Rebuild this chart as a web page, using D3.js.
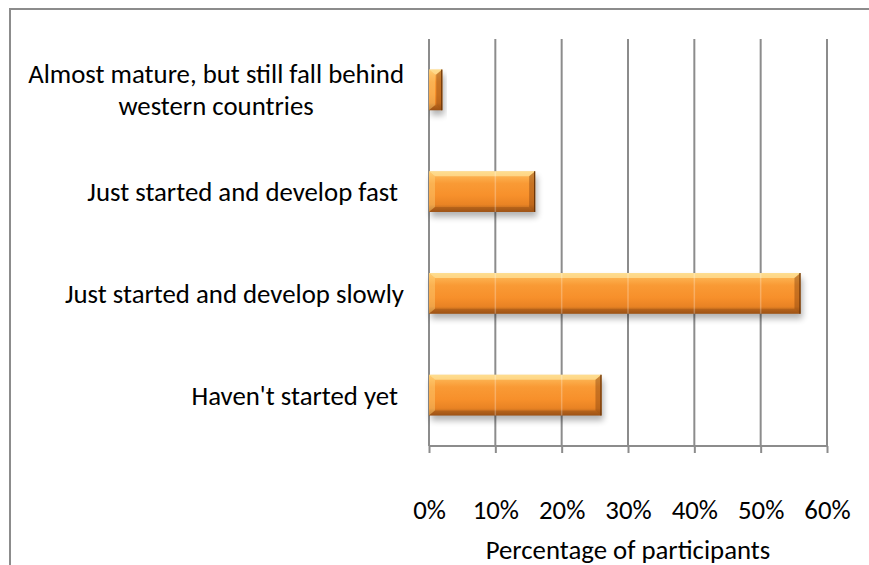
<!DOCTYPE html>
<html>
<head>
<meta charset="utf-8">
<script src="https://cdn.jsdelivr.net/npm/d3@7/dist/d3.min.js"></script>
<style>
  html, body { margin: 0; padding: 0; background: #fff; }
  svg { display: block; }
  text { font-family: Carlito, Calibri, Lato, sans-serif; fill: #000; }
</style>
</head>
<body>
<svg id="chart" width="869" height="565"></svg>
<script>
// Survey answers, top to bottom as shown
const categories = [
  "Almost mature, but still fall behind\nwestern countries",
  "Just started and develop fast ",
  "Just started and develop slowly",
  "Haven't started yet "
];
// Share of participants (%)
const values = [2, 16, 56, 26];
const tickValues = [0, 10, 20, 30, 40, 50, 60];
const xTitle = "Percentage of participants";

const svg = d3.select("#chart");
const W = 869, H = 565;
const plot = { left: 429, right: 827, top: 39, bottom: 446 };
const fontSize = 26.8;
const fontStack = "Carlito, Calibri, Lato, sans-serif";

// chart frame
svg.append("rect")
  .attr("x", 10).attr("y", 9)
  .attr("width", W + 20).attr("height", H + 20)
  .attr("fill", "#fff").attr("stroke", "#8c8c8c").attr("stroke-width", 2);

const x = d3.scaleLinear().domain([0, 60]).range([plot.left, plot.right]);
const y = d3.scaleBand().domain(categories).range([plot.top, plot.bottom])
  .paddingInner(0.6).paddingOuter(0.3);

// defs: gradient + shadow
const defs = svg.append("defs");
const grad = defs.append("linearGradient").attr("id", "barGrad")
  .attr("x1", 0).attr("y1", 0).attr("x2", 0).attr("y2", 1);
[[0, "#fdc468"], [0.14, "#fcae4c"], [0.3, "#f99a35"], [0.6, "#f7902b"], [0.82, "#e98324"], [0.9, "#c8701f"], [1, "#a85a18"]]
  .forEach(([o, c]) => grad.append("stop").attr("offset", o).attr("stop-color", c));
const blur = defs.append("filter").attr("id", "shadow")
  .attr("x", "-10%").attr("y", "-30%").attr("width", "130%").attr("height", "180%");
blur.append("feGaussianBlur").attr("stdDeviation", 3);

// vertical gridlines
const grid = svg.append("g").attr("class", "grid");
grid.selectAll("line").data(tickValues).join("line")
  .attr("x1", d => x(d)).attr("x2", d => x(d))
  .attr("y1", plot.top).attr("y2", plot.bottom)
  .attr("stroke", "#8c8c8c").attr("stroke-width", 2);

// x axis with outward ticks
const axis = svg.append("g")
  .attr("transform", `translate(0,${plot.bottom})`)
  .call(d3.axisBottom(x).tickValues(tickValues).tickSize(7).tickPadding(47)
    .tickFormat(d => d + "%"));
axis.select(".domain").attr("stroke", "#8c8c8c").attr("stroke-width", 2)
  .attr("d", `M${plot.left},0H${plot.right}`);
axis.selectAll(".tick line").attr("stroke", "#8c8c8c").attr("stroke-width", 2);
axis.selectAll(".tick text")
  .attr("font-size", fontSize).style("font-family", fontStack)
  .attr("fill", "#000");

svg.append("text")
  .attr("x", (plot.left + plot.right) / 2).attr("y", 550).attr("dy", "0.35em")
  .attr("text-anchor", "middle").attr("font-size", fontSize)
  .text(xTitle);

// bars
const bars = svg.append("g").selectAll("g").data(values).join("g");
const bw = y.bandwidth();
const bev = 6;
bars.each(function (v, i) {
  const g = d3.select(this);
  const x0 = x(0), x1 = x(v), y0 = y(categories[i]), y1 = y0 + bw;
  const b = Math.min(bev, (x1 - x0) / 2);
  g.append("rect").attr("x", x0 + 2).attr("y", y0 + 5).attr("width", x1 - x0)
    .attr("height", bw).attr("fill", "#000").attr("opacity", 0.3)
    .attr("filter", "url(#shadow)");
  g.append("rect").attr("x", x0).attr("y", y0).attr("width", x1 - x0)
    .attr("height", bw).attr("fill", "url(#barGrad)");
  // bevelled edges
  const poly = (pts, fill, op) => g.append("polygon")
    .attr("points", pts.map(p => p.join(",")).join(" "))
    .attr("fill", fill).attr("opacity", op);
  poly([[x0, y0], [x1, y0], [x1 - b, y0 + 5], [x0 + b, y0 + 5]], "#fff3b0", 0.55);
  poly([[x0, y0], [x0 + b, y0 + 5], [x0 + b, y1 - 5], [x0, y1]], "#ffe08a", 0.35);
  poly([[x1, y0], [x1, y1], [x1 - b, y1 - 5], [x1 - b, y0 + 5]], "#8a4510", 0.45);
  poly([[x0, y1], [x1, y1], [x1 - b, y1 - 5], [x0 + b, y1 - 5]], "#8a4510", 0.35);
  g.append("line").attr("x1", x1 - 0.5).attr("x2", x1 - 0.5).attr("y1", y0).attr("y2", y1)
    .attr("stroke", "#6b3508").attr("stroke-width", 1.2);
  // faint gridlines seen through the bar
  tickValues.filter(t => t > 0 && x(t) < x1 - b).forEach(t => {
    g.append("line").attr("x1", x(t)).attr("x2", x(t)).attr("y1", y0).attr("y2", y1)
      .attr("stroke", "#fff").attr("stroke-width", 1.5).attr("opacity", 0.25);
  });
});

// category labels, right aligned at the plot edge
const labelRight = 404;
categories.forEach((c, i) => {
  const lines = c.split("\n");
  const cy = y(c) + bw / 2;
  const lh = 32;
  const t = svg.append("text").attr("font-size", fontSize).style("white-space", "pre");
  if (lines.length === 1) {
    t.attr("x", labelRight).attr("y", cy).attr("dy", "0.35em")
      .attr("text-anchor", "end").text(lines[0]);
  } else {
    const first = t.append("tspan").attr("x", labelRight).attr("y", cy - lh / 2)
      .attr("dy", "0.35em").attr("text-anchor", "end").text(lines[0]);
    const w = first.node().getComputedTextLength();
    lines.slice(1).forEach((ln, k) => {
      t.append("tspan").attr("x", labelRight - w / 2).attr("y", cy - lh / 2 + lh * (k + 1))
        .attr("dy", "0.35em").attr("text-anchor", "middle").text(ln);
    });
  }
});
</script>
</body>
</html>
